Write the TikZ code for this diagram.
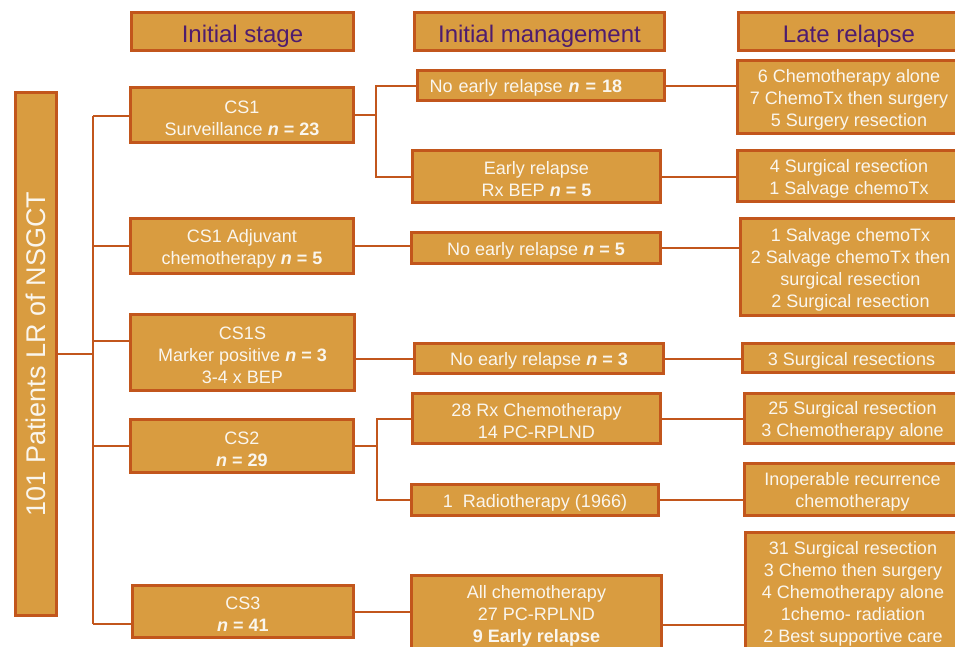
\documentclass[tikz,border=0pt]{standalone}
\usepackage{fontspec}
\setmainfont{Liberation Sans}
\usepackage{tikz}
\usepackage{xcolor}

\definecolor{boxfill}{RGB}{217,156,64}
\definecolor{boxline}{RGB}{194,86,28}
\definecolor{boxtext}{RGB}{250,246,238}
\definecolor{headtext}{RGB}{78,28,110}

\newcommand{\ncount}[1]{\textbf{\textit{n} = #1}}
\newcommand{\lift}{\rule{0pt}{18.5pt}}

\begin{document}
\begin{tikzpicture}[
    x=1pt, y=-1pt,
    stagebox/.style={rectangle, draw=boxline, fill=boxfill, line width=3pt, inner sep=0pt, align=center, text=boxtext, font=\fontsize{18}{22}\selectfont, execute at begin node={\lift}},
    header/.style={stagebox, text=headtext, font=\fontsize{24}{28}\selectfont, execute at begin node={\rule{0pt}{26pt}}},
    link/.style={draw=boxline, line width=2pt}
]
    \clip (0,0) rectangle (955,646);

    % Column headers
    \node[header, minimum width=222, minimum height=38] (hstage) at (242.5,31.5) {Initial stage};
    \node[header, minimum width=250, minimum height=38] (hmanage) at (539.5,31.5) {Initial management};
    \node[header, minimum width=221, minimum height=38] (hlate) at (849,31.5) {Late relapse};

    % All patients
    \node[stagebox, rotate=90, minimum width=523, minimum height=41, font=\fontsize{27}{32}\selectfont, execute at begin node={}] (root) at (36,354) {101 Patients LR of NSGCT};

    % Initial stage
    \node[stagebox, minimum width=223, minimum height=55] (cs1) at (242,115) {\lift CS1\\Surveillance \ncount{23}};
    \node[stagebox, minimum width=223, minimum height=55] (cs1a) at (242,246) {\lift CS1 Adjuvant\\chemotherapy \ncount{5}};
    \node[stagebox, minimum width=224, minimum height=76] (cs1s) at (242.5,352.5) {\lift CS1S\\Marker positive \ncount{3}\\3-4 x BEP};
    \node[stagebox, minimum width=223, minimum height=53] (cs2) at (242,446) {\lift CS2\\\ncount{29}};
    \node[stagebox, minimum width=221, minimum height=52] (cs3) at (243,611.5) {\lift CS3\\\ncount{41}};

    % Initial management
    \node[stagebox, text width=223, inner xsep=12pt, align=left, minimum height=30] (ner18) at (541,85.5) {No early relapse \ncount{18}};
    \node[stagebox, minimum width=248, minimum height=52] (er5) at (536.5,176.5) {\lift Early relapse\\Rx BEP \ncount{5}};
    \node[stagebox, minimum width=249, minimum height=31] (ner5) at (536,248) {No early relapse \ncount{5}};
    \node[stagebox, minimum width=249, minimum height=30] (ner3) at (539,358.5) {No early relapse \ncount{3}};
    \node[stagebox, minimum width=248, minimum height=50] (rx28) at (536.5,418.5) {\lift 28 Rx Chemotherapy\\14 PC-RPLND};
    \node[stagebox, minimum width=247, minimum height=31] (radio) at (535,500) {1\ \ Radiotherapy (1966)};
    \node[stagebox, minimum width=250, minimum height=75] (allchemo) at (536.5,613) {\lift All chemotherapy\\27 PC-RPLND\\\textbf{9 Early relapse}};

    % Late relapse
    \node[stagebox, minimum width=223, minimum height=73] (late1) at (849,97) {\lift 6 Chemotherapy alone\\7 ChemoTx then surgery\\5 Surgery resection};
    \node[stagebox, minimum width=223, minimum height=51] (late2) at (849,176) {\lift 4 Surgical resection\\1 Salvage chemoTx};
    \node[stagebox, minimum width=220, minimum height=97] (late3) at (850.5,267) {\lift 1 Salvage chemoTx\\2 Salvage chemoTx then\\surgical resection\\2 Surgical resection};
    \node[stagebox, minimum width=218, minimum height=29] (late4) at (851.5,358) {3 Surgical resections};
    \node[stagebox, minimum width=216, minimum height=50] (late5) at (852.5,418.5) {\lift 25 Surgical resection\\3 Chemotherapy alone};
    \node[stagebox, minimum width=216, minimum height=52] (late6) at (852.5,489.5) {\lift Inoperable recurrence\\chemotherapy};
    \node[stagebox, minimum width=215, minimum height=118] (late7) at (853,591.5) {\lift 31 Surgical resection\\3 Chemo then surgery\\4 Chemotherapy alone\\1chemo- radiation\\2 Best supportive care};

    % Trunk to the stages
    \coordinate (t1) at (93,116);
    \coordinate (t2) at (93,246);
    \coordinate (t3) at (93,341);
    \coordinate (t4) at (93,446);
    \coordinate (t5) at (93,624);
    \draw[link] (root.south) -- (root.south -| t1);
    \draw[link] (t1) -- (t5);
    \foreach \t/\b in {t1/cs1, t2/cs1a, t3/cs1s, t4/cs2, t5/cs3}
        \draw[link] (\t) -- (\t -| \b.west);

    % Stages to management
    \coordinate (f1) at (376,130);
    \draw[link] (cs1.east) -- (cs1.east -| f1);
    \draw[link] (ner18.west) -| (f1) |- (er5.west);
    \draw[link] (cs1a.east) -- (cs1a.east -| ner5.west);
    \draw[link] (ner3.west -| cs1s.east) -- (ner3.west);
    \coordinate (f2) at (377,460);
    \draw[link] (cs2.east) -- (cs2.east -| f2);
    \draw[link] (rx28.west) -| (f2) |- (radio.west);
    \draw[link] (cs3.east) -- (cs3.east -| allchemo.west);

    % Management to late relapse
    \draw[link] (ner18.east) -- (ner18.east -| late1.west);
    \draw[link] (er5.east) -- (er5.east -| late2.west);
    \draw[link] (ner5.east) -- (ner5.east -| late3.west);
    \draw[link] (ner3.east) -- (ner3.east -| late4.west);
    \draw[link] (rx28.east) -- (rx28.east -| late5.west);
    \draw[link] (radio.east) -- (radio.east -| late6.west);
    \coordinate (c7) at ([yshift=-12pt]allchemo.east);
    \draw[link] (c7) -- (c7 -| late7.west);
\end{tikzpicture}
\end{document}
